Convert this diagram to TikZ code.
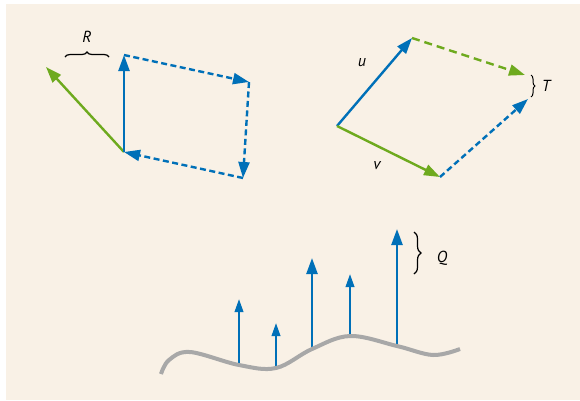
\documentclass[tikz,border=0pt]{standalone}
\usepackage{fontspec}
\setmainfont{PT Sans}
\usetikzlibrary{arrows.meta,decorations.pathreplacing}
\definecolor{bgbeige}{RGB}{249,241,230}
\definecolor{vecblue}{RGB}{0,112,184}
\definecolor{vecgreen}{RGB}{110,170,30}
\definecolor{curvegray}{RGB}{168,168,168}

\begin{document}
\begin{tikzpicture}[
  x=1pt, y=-1pt,
  font=\itshape\fontsize{16}{18}\selectfont,
  vec/.style={line width=2.4pt, -{Triangle[length=16pt,width=11pt]}},
  smallvec/.style={line width=2.2pt, -{Triangle[length=13pt,width=8.5pt]}},
  dashvec/.style={vec, dash pattern=on 6pt off 3.5pt},
  greendash/.style={vec, dash pattern=on 8pt off 5pt},
  brc/.style={decorate, decoration={brace, amplitude=5pt}, line width=1.2pt},
  lbl/.style={inner sep=1pt}
]
\useasboundingbox (0,0) rectangle (580,400);
\fill[white] (0,0) rectangle (580,400);
\fill[bgbeige] (6,4) rectangle (580,400);

\coordinate (base) at (124,152);
\coordinate (up) at (124,55);
\coordinate (corner) at (249,82);
\coordinate (low) at (243,178);
\coordinate (res) at (46,67);
\coordinate (rl) at (65,57);
\coordinate (rr) at (109,57);
\node[lbl] (rlab) at (87,37) {R};

\coordinate (orig) at (337,126);
\coordinate (utip) at (412,38);
\coordinate (vtip) at (440,177);
\coordinate (uv) at (525,75);
\coordinate (vu) at (528,99);
\coordinate (tt) at (531,75);
\coordinate (tb) at (531,97);
\node[lbl] (ulab) at (362,63) {u};
\node[lbl] (vlab) at (377,166) {v};
\node[lbl] (tlab) at (546,86) {T};

\coordinate (b1) at (239,365); \coordinate (t1) at (239,299);
\coordinate (b2) at (276,368); \coordinate (t2) at (276,323);
\coordinate (b3) at (312,349); \coordinate (t3) at (312,258);
\coordinate (b4) at (350,336); \coordinate (t4) at (350,274);
\coordinate (b5) at (397,346); \coordinate (t5) at (397,229);
\coordinate (qt) at (414,232);
\coordinate (qb) at (414,274);
\node[lbl] (qlab) at (442,258) {Q};

\draw[vec, vecgreen] (base) -- (res);
\draw[vec, vecblue] (base) -- (up);
\draw[dashvec, vecblue] (up) -- (corner);
\draw[dashvec, vecblue] (corner) -- (low);
\draw[dashvec, vecblue] (low) -- (base);
\draw[brc] (rl) -- (rr);

\draw[vec, vecblue] (orig) -- (utip);
\draw[vec, vecgreen] (orig) -- (vtip);
\draw[greendash, vecgreen] (utip) -- (uv);
\draw[dashvec, vecblue] (vtip) -- (vu);
\draw[brc, line width=1pt, decoration={amplitude=4pt}] (tt) -- (tb);

\draw[smallvec, vecblue] (b1) -- (t1);
\draw[smallvec, vecblue] (b2) -- (t2);
\draw[vec, vecblue] (b3) -- (t3);
\draw[smallvec, vecblue] (b4) -- (t4);
\draw[vec, vecblue] (b5) -- (t5);
\draw[curvegray, line width=4pt] plot[smooth, tension=0.6] coordinates {(161,374) (169,360) (190,352) (b1) (b2) (b3) (b4) (b5) (433,355) (460,349)};
\draw[brc, decoration={amplitude=7pt}] (qt) -- (qb);
\end{tikzpicture}
\end{document}
